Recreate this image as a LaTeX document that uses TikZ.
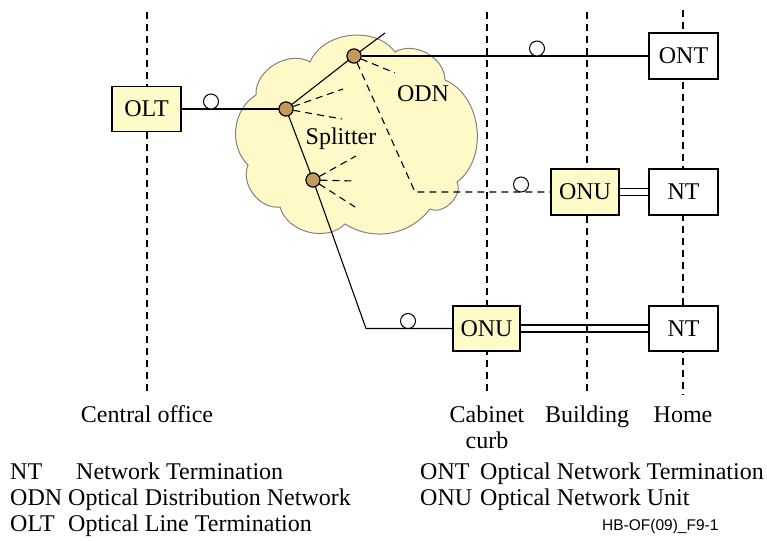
\documentclass[tikz,border=0pt]{standalone}
\usepackage{fontspec}
\setmainfont{Liberation Serif}
\newfontfamily\labfont{Liberation Sans}
\definecolor{boxyellow}{RGB}{255,251,200}
\definecolor{cloudyellow}{RGB}{255,249,200}
\definecolor{cloudline}{RGB}{130,130,130}
\definecolor{dotbrown}{RGB}{196,154,92}
\tikzset{
  txt/.style={font=\fontsize{24}{28}\selectfont, inner sep=0pt},
  unitbox/.style={draw, line width=1.3pt, minimum width=69pt, minimum height=45pt, inner sep=0pt, font=\fontsize{24}{28}\selectfont},
  yellowbox/.style={unitbox, fill=boxyellow},
  whitebox/.style={unitbox, fill=white},
  guide/.style={line width=1.2pt, dash pattern=on 7pt off 5pt},
  fibre/.style={line width=1.1pt},
  fibredash/.style={line width=1.1pt, dash pattern=on 7pt off 5pt},
  splitdot/.style={circle, draw, line width=1pt, fill=dotbrown, minimum size=14pt, inner sep=0pt},
  ring/.style={circle, draw, line width=1pt, fill=white, minimum size=15pt, inner sep=0pt},
  puff/.style={bend left=#1},
}
\begin{document}
\begin{tikzpicture}[x=1pt,y=1pt]
\useasboundingbox (0,0) rectangle (767,-540);
% vertical guide lines
\coordinate (coT) at (147,-12); \coordinate (coB) at (147,-395);
\coordinate (cabT) at (487,-12); \coordinate (cabB) at (487,-395);
\coordinate (bldT) at (587,-12); \coordinate (bldB) at (587,-395);
\coordinate (homT) at (683,-10); \coordinate (homB) at (683,-395);
\draw[guide] (coT) -- (coB);
\draw[guide] (cabT) -- (cabB);
\draw[guide] (bldT) -- (bldB);
\draw[guide] (homT) -- (homB);
% cloud (ODN)
\draw[draw=cloudline, line width=1pt, fill=cloudyellow]
  (310,-62) to[puff=60] (395,-52) to[puff=60] (445,-80) to[puff=60] (457,-182)
  to[puff=70] (430,-209) to[puff=42] (345,-224) to[puff=60] (280,-207)
  to[puff=60] (248,-165) to[puff=52] (256,-95) to[puff=62] cycle;
% boxes
\node[yellowbox] (olt) at (146.5,-109) {OLT};
\node[whitebox, minimum height=46pt] (ont) at (683.5,-56) {ONT};
\node[yellowbox, minimum width=68pt, minimum height=46pt] (onu2) at (585,-192) {ONU};
\node[whitebox, minimum height=46pt] (nt2) at (683.5,-192) {NT};
\node[yellowbox, minimum width=67pt] (onu3) at (486.5,-328.5) {ONU};
\node[whitebox] (nt3) at (683.5,-328.5) {NT};
% splitters
\node[splitdot] (s1) at (286,-109) {};
\node[splitdot] (s2) at (354,-56) {};
\node[splitdot] (s3) at (313,-180) {};
% free ends
\coordinate (s2up) at (385,-33);
\coordinate (s2bend) at (415,-192);
\coordinate (s3bend) at (366,-328.5);
\coordinate (d1a) at (343,-89); \coordinate (d1b) at (342,-119);
\coordinate (d2a) at (395,-73);
\coordinate (d3a) at (356,-156); \coordinate (d3b) at (355,-181); \coordinate (d3c) at (355,-207);
% fibres
\draw[fibre] (olt.east) -- (s1);
\draw[fibre] (s1) -- (s2);
\draw[fibre] (s2) -- (s2up);
\draw[fibre] (s2) -- (ont.west);
\draw[fibre] (s1) -- (s3);
\draw[fibre] (s3) -- (s3bend) -- (onu3.west);
\draw[fibredash] (s2) -- (s2bend) -- (onu2.west);
\draw[fibredash] (s1) -- (d1a);
\draw[fibredash] (s1) -- (d1b);
\draw[fibredash] (s2) -- (d2a);
\draw[fibredash] (s3) -- (d3a);
\draw[fibredash] (s3) -- (d3b);
\draw[fibredash] (s3) -- (d3c);
% copper pairs
\draw[line width=1.1pt] ([yshift=3.5pt]onu2.east) -- ([yshift=3.5pt]nt2.west);
\draw[line width=1.1pt] ([yshift=-3.5pt]onu2.east) -- ([yshift=-3.5pt]nt2.west);
\draw[line width=1.1pt] ([yshift=3.5pt]onu3.east) -- ([yshift=3.5pt]nt3.west);
\draw[line width=1.1pt] ([yshift=-3.5pt]onu3.east) -- ([yshift=-3.5pt]nt3.west);
% redraw splitter dots on top
\node[splitdot] at (s1) {};
\node[splitdot] at (s2) {};
\node[splitdot] at (s3) {};
% wavelength rings
\node[ring] (r1) at (211,-101.5) {};
\node[ring] (r2) at (537,-48.5) {};
\node[ring] (r3) at (521,-184.5) {};
\node[ring] (r4) at (408,-321) {};
% labels
\node[txt, anchor=base] (lodn) at (423,-102) {ODN};
\node[txt, anchor=base] (lspl) at (341,-145) {Splitter};
\node[txt, anchor=base] (lco) at (147,-422) {Central office};
\node[txt, anchor=base] (lcab) at (487,-422) {Cabinet};
\node[txt, anchor=base] (lcurb) at (487,-448) {curb};
\node[txt, anchor=base] (lbld) at (587,-422) {Building};
\node[txt, anchor=base] (lhom) at (683,-422) {Home};
% legend
\node[txt, anchor=base west] (k1) at (10,-479) {NT};
\node[txt, anchor=base west] (v1) at (76,-479) {Network Termination};
\node[txt, anchor=base west] (k2) at (10,-505) {ODN};
\node[txt, anchor=base west] (v2) at (68,-505) {Optical Distribution Network};
\node[txt, anchor=base west] (k3) at (10,-531) {OLT};
\node[txt, anchor=base west] (v3) at (68,-531) {Optical Line Termination};
\node[txt, anchor=base west] (k4) at (420,-479) {ONT};
\node[txt, anchor=base west] (v4) at (480,-479) {Optical Network Termination};
\node[txt, anchor=base west] (k5) at (420,-505) {ONU};
\node[txt, anchor=base west] (v5) at (480,-505) {Optical Network Unit};
\node[anchor=base west, inner sep=0pt, font=\labfont\fontsize{15.5}{18}\selectfont] (fig) at (602,-530) {HB-OF(09)\_F9-1};
\end{tikzpicture}
\end{document}
